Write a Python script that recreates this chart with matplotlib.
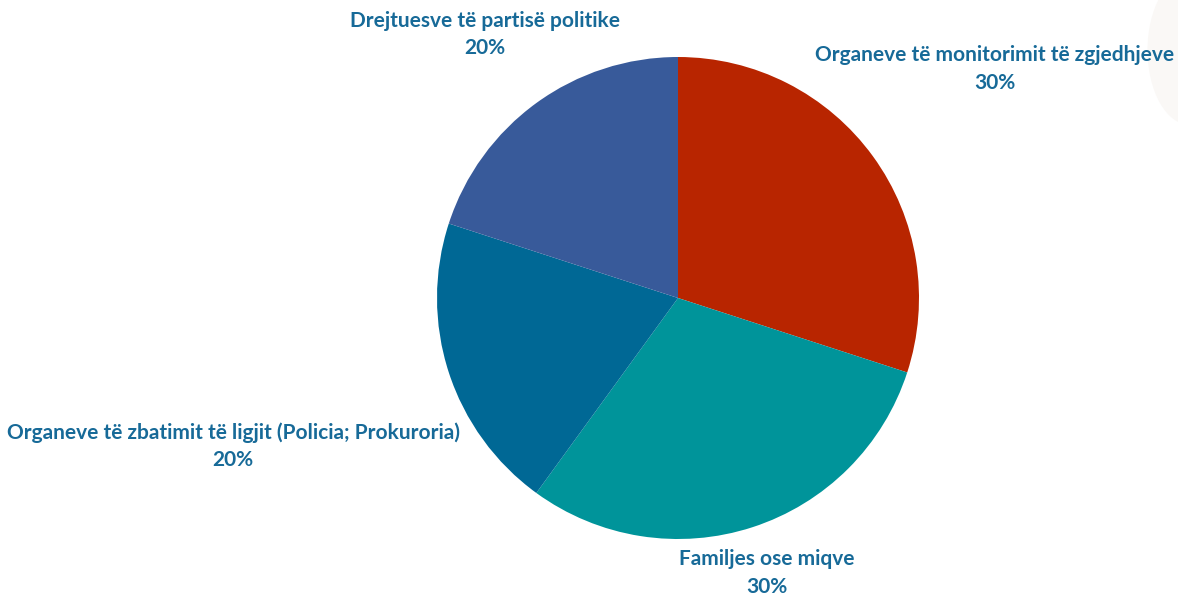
import matplotlib
matplotlib.use("Agg")
import matplotlib.pyplot as plt
from matplotlib.patches import Ellipse

categories = ["Organeve të monitorimit të zgjedhjeve", "Familjes ose miqve",
              "Organeve të zbatimit të ligjit (Policia; Prokuroria)",
              "Drejtuesve të partisë politike"]
values = [30, 30, 20, 20]
colors = ["#B82500", "#00949A", "#006895", "#385A9A"]
label_pos = [(1.315, 0.95), (0.369, -1.141), (-1.846, -0.614), (-0.801, 1.095)]

W, H = 1178, 595
fig = plt.figure(figsize=(W / 100, H / 100), dpi=100)
fig.patch.set_facecolor("white")

# faint background blob top-right
bg = fig.add_axes([0, 0, 1, 1])
bg.set_xlim(0, W); bg.set_ylim(H, 0); bg.axis("off")
bg.add_patch(Ellipse((1190, 50), 85, 150, color="#FAF8F6", lw=0))

cx, cy, r = 678, 298, 241
ax = fig.add_axes([(cx - r) / W, (H - cy - r) / H, 2 * r / W, 2 * r / H])
ax.pie(values, colors=colors, startangle=90, counterclock=False, radius=1,
       wedgeprops=dict(linewidth=0))
ax.set_xlim(-1, 1); ax.set_ylim(-1, 1)
ax.set_aspect("equal")
ax.axis("off")

for cat, v, (x, y) in zip(categories, values, label_pos):
    ax.text(x, y, f"{cat}\n{v}%", ha="center", va="center", fontsize=15,
            fontweight="bold", family="Lato", color="#176A98",
            linespacing=1.45, clip_on=False)

fig.savefig("out.png", dpi=100)
